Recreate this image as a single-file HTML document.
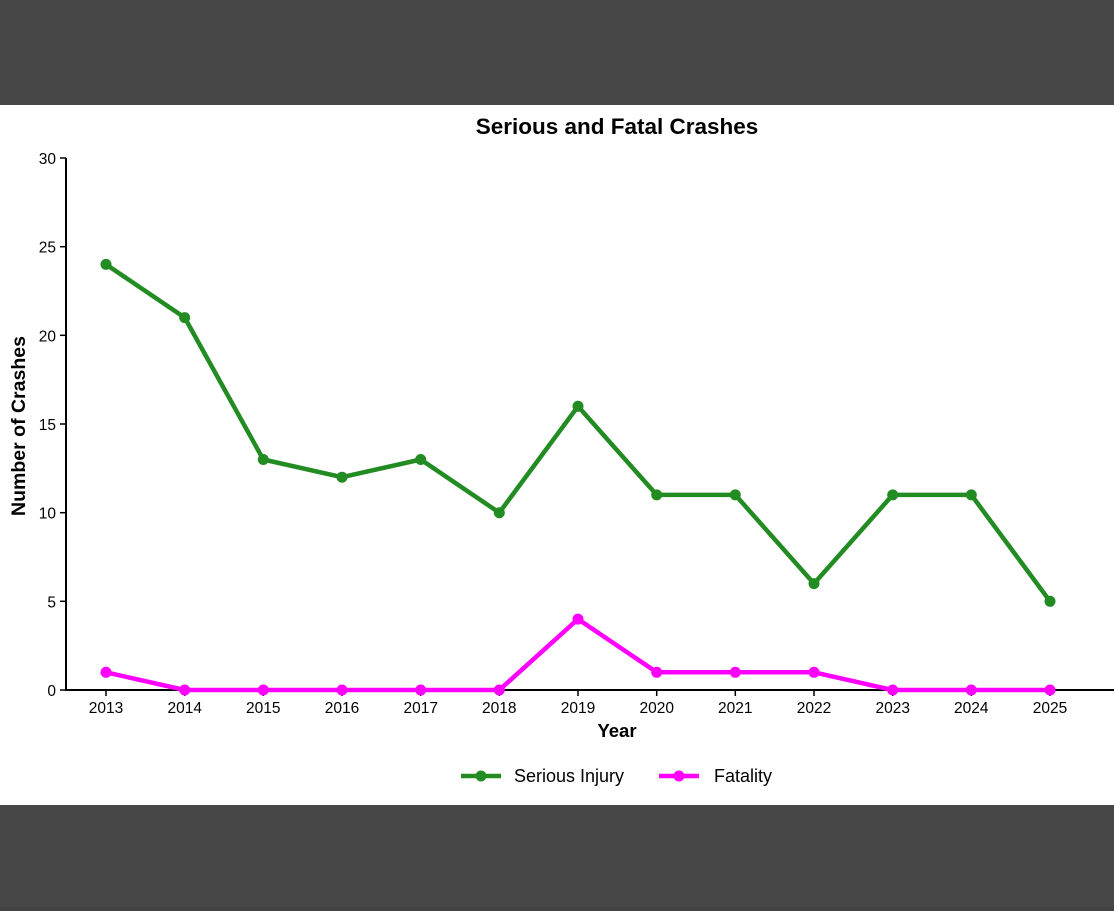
<!DOCTYPE html>
<html><head><style>
body{margin:0;width:1114px;height:906px;overflow:hidden;background:#444;font-family:"Liberation Sans",Arial,sans-serif}
</style></head><body>
<svg width="1114" height="906" xmlns="http://www.w3.org/2000/svg" font-family="Liberation Sans, Arial, sans-serif">
<rect x="0" y="0" width="1114" height="105" fill="#474747"/>
<rect x="0" y="805" width="1114" height="101" fill="#474747"/>
<rect x="0" y="105" width="1114" height="700" fill="#fff"/>
<text x="617" y="134" font-size="22.5" font-weight="bold" text-anchor="middle">Serious and Fatal Crashes</text>
<g stroke="#000" stroke-width="2" fill="none">
<line x1="66" y1="158" x2="66" y2="691"/>
<line x1="65" y1="690" x2="1114" y2="690"/>
</g>
<g stroke="#000" stroke-width="1.5">
<line x1="60" y1="158" x2="66" y2="158"/><line x1="60" y1="246.7" x2="66" y2="246.7"/><line x1="60" y1="335.3" x2="66" y2="335.3"/><line x1="60" y1="424" x2="66" y2="424"/><line x1="60" y1="512.7" x2="66" y2="512.7"/><line x1="60" y1="601.3" x2="66" y2="601.3"/><line x1="60" y1="690" x2="66" y2="690"/>
<line x1="106" y1="690" x2="106" y2="696"/><line x1="184.7" y1="690" x2="184.7" y2="696"/><line x1="263.3" y1="690" x2="263.3" y2="696"/><line x1="342" y1="690" x2="342" y2="696"/><line x1="420.7" y1="690" x2="420.7" y2="696"/><line x1="499.3" y1="690" x2="499.3" y2="696"/><line x1="578" y1="690" x2="578" y2="696"/><line x1="656.7" y1="690" x2="656.7" y2="696"/><line x1="735.3" y1="690" x2="735.3" y2="696"/><line x1="814" y1="690" x2="814" y2="696"/><line x1="892.7" y1="690" x2="892.7" y2="696"/><line x1="971.3" y1="690" x2="971.3" y2="696"/><line x1="1050" y1="690" x2="1050" y2="696"/>
</g>
<g font-size="15.5" text-anchor="end">
<text x="56" y="164">30</text><text x="56" y="252.7">25</text><text x="56" y="341.3">20</text><text x="56" y="430">15</text><text x="56" y="518.7">10</text><text x="56" y="607.3">5</text><text x="56" y="696">0</text>
</g>
<g font-size="15.5" text-anchor="middle">
<text x="106" y="713">2013</text><text x="184.7" y="713">2014</text><text x="263.3" y="713">2015</text><text x="342" y="713">2016</text><text x="420.7" y="713">2017</text><text x="499.3" y="713">2018</text><text x="578" y="713">2019</text><text x="656.7" y="713">2020</text><text x="735.3" y="713">2021</text><text x="814" y="713">2022</text><text x="892.7" y="713">2023</text><text x="971.3" y="713">2024</text><text x="1050" y="713">2025</text>
</g>
<text x="617" y="737" font-size="18.5" font-weight="bold" text-anchor="middle">Year</text>
<text transform="translate(25,426) rotate(-90)" font-size="19.5" font-weight="bold" text-anchor="middle">Number of Crashes</text>
<polyline fill="none" stroke="#228B22" stroke-width="4.5" stroke-linejoin="round" points="106,264.4 184.7,317.6 263.3,459.5 342,477.2 420.7,459.5 499.3,512.7 578,406.3 656.7,494.9 735.3,494.9 814,583.6 892.7,494.9 971.3,494.9 1050,601.3"/>
<g fill="#228B22">
<circle cx="106" cy="264.4" r="5.5"/><circle cx="184.7" cy="317.6" r="5.5"/><circle cx="263.3" cy="459.5" r="5.5"/><circle cx="342" cy="477.2" r="5.5"/><circle cx="420.7" cy="459.5" r="5.5"/><circle cx="499.3" cy="512.7" r="5.5"/><circle cx="578" cy="406.3" r="5.5"/><circle cx="656.7" cy="494.9" r="5.5"/><circle cx="735.3" cy="494.9" r="5.5"/><circle cx="814" cy="583.6" r="5.5"/><circle cx="892.7" cy="494.9" r="5.5"/><circle cx="971.3" cy="494.9" r="5.5"/><circle cx="1050" cy="601.3" r="5.5"/>
</g>
<polyline fill="none" stroke="#FF00FF" stroke-width="4.5" stroke-linejoin="round" points="106,672.3 184.7,690 263.3,690 342,690 420.7,690 499.3,690 578,619.1 656.7,672.3 735.3,672.3 814,672.3 892.7,690 971.3,690 1050,690"/>
<g fill="#FF00FF">
<circle cx="106" cy="672.3" r="5.5"/><circle cx="184.7" cy="690" r="5.5"/><circle cx="263.3" cy="690" r="5.5"/><circle cx="342" cy="690" r="5.5"/><circle cx="420.7" cy="690" r="5.5"/><circle cx="499.3" cy="690" r="5.5"/><circle cx="578" cy="619.1" r="5.5"/><circle cx="656.7" cy="672.3" r="5.5"/><circle cx="735.3" cy="672.3" r="5.5"/><circle cx="814" cy="672.3" r="5.5"/><circle cx="892.7" cy="690" r="5.5"/><circle cx="971.3" cy="690" r="5.5"/><circle cx="1050" cy="690" r="5.5"/>
</g>
<line x1="461" y1="776" x2="501" y2="776" stroke="#228B22" stroke-width="4.5"/>
<circle cx="481" cy="776" r="5.5" fill="#228B22"/>
<text x="514" y="782" font-size="18">Serious Injury</text>
<line x1="659" y1="776" x2="699" y2="776" stroke="#FF00FF" stroke-width="4.5"/>
<circle cx="679" cy="776" r="5.5" fill="#FF00FF"/>
<text x="714" y="782" font-size="18">Fatality</text>
</svg>
</body></html>
